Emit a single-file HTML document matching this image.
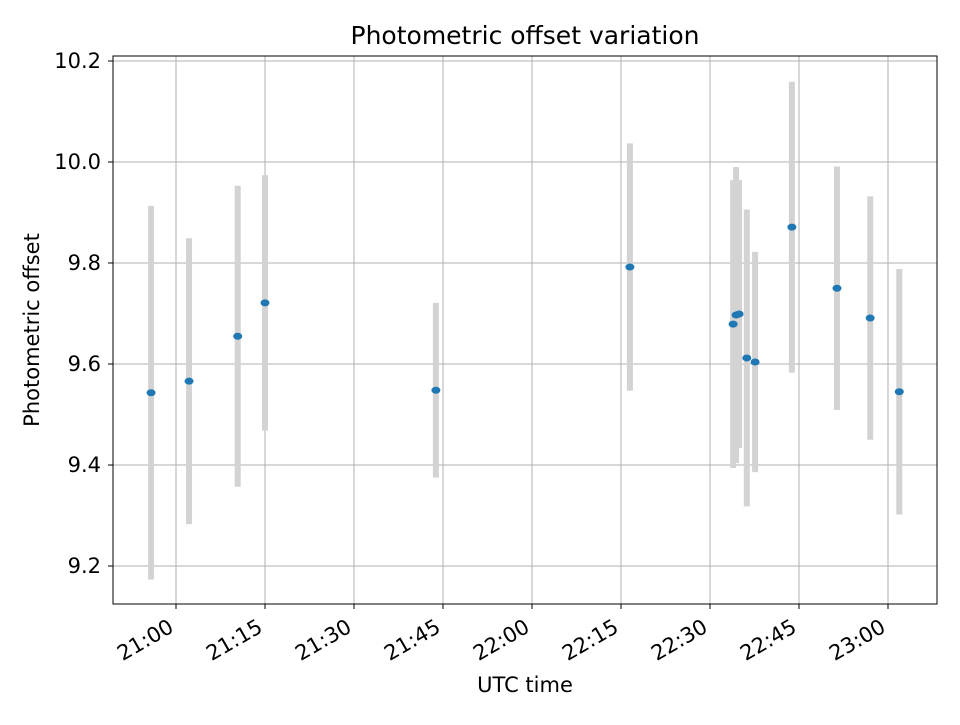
<!DOCTYPE html>
<html><head><meta charset="utf-8"><style>
body{margin:0;background:#fff;font-family:"Liberation Sans","DejaVu Sans",sans-serif}
</style></head><body>
<svg id="chart" width="960" height="720" xmlns="http://www.w3.org/2000/svg" font-family="DejaVu Sans, Liberation Sans, sans-serif"></svg>
<script>
// minutes after 21:00 UTC
const times=[-4.2,2.2,10.4,15,43.8,76.5,93.9,94.4,94.9,96.2,97.6,103.8,111.4,117.0,121.9];
const offsets=[9.543,9.566,9.655,9.721,9.548,9.792,9.679,9.697,9.699,9.612,9.604,9.871,9.750,9.691,9.545];
const errors=[0.37,0.283,0.298,0.253,0.173,0.245,0.285,0.293,0.265,0.294,0.218,0.288,0.241,0.241,0.243];
const yTicks=[9.2,9.4,9.6,9.8,10.0,10.2];
const xTickMin=[0,15,30,45,60,75,90,105,120];
const xTickLabels=["21:00","21:15","21:30","21:45","22:00","22:15","22:30","22:45","23:00"];
const L=113,R=937,T=56,B=604;
const xs=m=>176+m*(89/15);
const ys=v=>566-(v-9.2)*505;
const svg=document.getElementById('chart');
const NS='http://www.w3.org/2000/svg';
function mk(tag,attrs,name,parent){const e=document.createElementNS(NS,tag);for(const k in attrs)e.setAttribute(k,attrs[k]);


(parent||svg).appendChild(e);return e;}
mk('rect',{x:L,y:T,width:R-L,height:B-T,fill:'#fff'},'plot-area');
yTicks.forEach((v,i)=>{const y=ys(v);
mk('line',{x1:L,x2:R,y1:y,y2:y,stroke:'#b0b0b0','stroke-width':1},'y-gridline');
mk('line',{x1:L-5,x2:L,y1:y,y2:y,stroke:'#000'},'y-tick');
const t=mk('text',{x:L-12,y:y+7,'text-anchor':'end','font-size':21},'y-tick-label');t.textContent=v.toFixed(1);});
xTickMin.forEach((m,i)=>{const x=xs(m);
mk('line',{x1:x,x2:x,y1:T,y2:B,stroke:'#b0b0b0','stroke-width':1},'x-gridline');
mk('line',{x1:x,x2:x,y1:B,y2:B+5,stroke:'#000'},'x-tick');
const ax=x-1,ay=B+27;
const t=mk('text',{x:ax,y:ay,'text-anchor':'end','font-size':21,transform:`rotate(-30 ${ax} ${ay})`},'x-tick-label');t.textContent=xTickLabels[i];});
times.forEach((m,i)=>{const x=xs(m);
mk('line',{x1:x,x2:x,y1:ys(offsets[i]+errors[i]),y2:ys(offsets[i]-errors[i]),stroke:'#d3d3d3','stroke-width':6},'error-bar');});
times.forEach((m,i)=>{mk('ellipse',{cx:xs(m),cy:ys(offsets[i]),rx:4.5,ry:3.5,fill:'#1f77b4'},'data-point');});
mk('rect',{x:L,y:T,width:R-L,height:B-T,fill:'none',stroke:'#000','stroke-width':1},'axes-frame');
let t=mk('text',{x:525,y:44,'text-anchor':'middle','font-size':25},'chart-title');t.textContent='Photometric offset variation';
t=mk('text',{x:525,y:692,'text-anchor':'middle','font-size':21},'x-axis-title');t.textContent='UTC time';
t=mk('text',{x:39,y:330,'text-anchor':'middle','font-size':21,transform:'rotate(-90 39 330)'},'y-axis-title');t.textContent='Photometric offset';
</script>
</body></html>
